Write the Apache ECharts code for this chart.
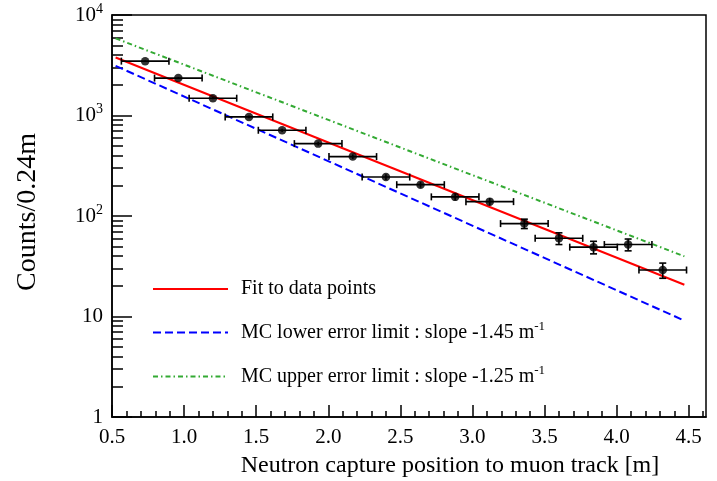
<!DOCTYPE html>
<html>
<head>
<meta charset="utf-8">
<script src="https://cdn.jsdelivr.net/npm/echarts@6/dist/echarts.min.js"></script>
<style>
  html, body { margin: 0; padding: 0; background: #fff; }
  #chart { width: 717px; height: 481px; }
</style>
</head>
<body>
<div id="chart"></div>
<script>
// Neutron capture distance distribution (bin width 0.24 m)
const positions = [0.73, 0.96, 1.20, 1.45, 1.68, 1.93, 2.17, 2.40, 2.64, 2.88, 3.12, 3.36, 3.60, 3.84, 4.08, 4.32];
const counts = [3475, 2356, 1486, 968, 713, 525, 390, 244, 205, 155, 139, 84, 60, 49, 52, 29];
const countErrors = [59, 49, 39, 31, 27, 23, 20, 16, 14, 12, 12, 9, 8, 7, 7, 5];
const binHalfWidth = 0.165;

// Exponential curves (straight on the log axis), given by their end points
const fitLine = [[0.525, 3780], [4.47, 20.7]];
const lowerLimitLine = [[0.525, 3120], [4.47, 9.1]];
const upperLimitLine = [[0.525, 5850], [4.47, 39.7]];

const seriesNames = [
  'Fit to data points',
  'MC lower error limit : slope -1.45 m',
  'MC upper error limit : slope -1.25 m'
];

// Axis ticks
const xMajorTicks = [0.5, 1.0, 1.5, 2.0, 2.5, 3.0, 3.5, 4.0, 4.5];
const xMinorTicks = [0.6, 0.7, 0.8, 0.9, 1.1, 1.2, 1.3, 1.4, 1.6, 1.7, 1.8, 1.9,
  2.1, 2.2, 2.3, 2.4, 2.6, 2.7, 2.8, 2.9, 3.1, 3.2, 3.3, 3.4, 3.6, 3.7, 3.8, 3.9,
  4.1, 4.2, 4.3, 4.4, 4.6];
const yMajorTicks = [1, 10, 100, 1000, 10000];
const yMinorTicks = [2, 3, 4, 5, 6, 7, 8, 9, 20, 30, 40, 50, 60, 70, 80, 90,
  200, 300, 400, 500, 600, 700, 800, 900, 2000, 3000, 4000, 5000, 6000, 7000, 8000, 9000];

const SERIF = "'Liberation Serif', 'Times New Roman', serif";
const X_MIN = 0.5, X_MAX = 4.62;

const chart = echarts.init(document.getElementById('chart'), null, { renderer: 'canvas' });

function yLabel(v) {
  const e = Math.round(Math.log10(v));
  if (e === 0) return '{b|1}';
  if (e === 1) return '{b|10}';
  return '{b|10}{s|' + e + '}';
}

const baseAxis = {
  min: X_MIN, max: X_MAX,
  splitLine: { show: false }
};

const option = {
  backgroundColor: '#fff',
  animation: false,
  grid: {
    left: 112, top: 15, right: 11, bottom: 64,
    show: true, borderColor: '#000', borderWidth: 1.5,
    containLabel: false, outerBoundsMode: 'none'
  },
  legend: {
    orient: 'vertical',
    left: 152, top: 277, padding: 0,
    itemWidth: 75, itemHeight: 14, itemGap: 19,
    selectedMode: false,
    data: seriesNames,
    itemStyle: { color: 'rgba(0,0,0,0)', borderWidth: 0, opacity: 0 },
    formatter: function (name) {
      if (name === seriesNames[0]) return '{t|' + name + '}';
      return '{t|' + name + '}{s|-1}';
    },
    textStyle: {
      fontFamily: SERIF, fontSize: 20, color: '#000', lineHeight: 24,
      padding: [0, 0, 0, 8],
      rich: {
        t: { fontFamily: SERIF, fontSize: 20, color: '#000', lineHeight: 24 },
        s: { fontFamily: SERIF, fontSize: 13, color: '#000', lineHeight: 24, padding: [0, 0, 12, 0] }
      }
    }
  },
  xAxis: [
    Object.assign({}, baseAxis, {
      type: 'value', position: 'bottom',
      name: 'Neutron capture position to muon track [m]',
      nameLocation: 'middle', nameGap: 37,
      nameTextStyle: { fontFamily: SERIF, fontSize: 24, color: '#000', padding: [0, 0, 0, 82] },
      axisLine: { show: true, onZero: false, lineStyle: { color: '#000', width: 1.5 } },
      axisTick: { show: true, inside: true, length: 12, customValues: xMajorTicks, lineStyle: { color: '#000', width: 1.5 } },
      axisLabel: {
        show: true, margin: 10, customValues: xMajorTicks,
        fontFamily: SERIF, fontSize: 21, color: '#000',
        formatter: v => v.toFixed(1)
      }
    }),
    Object.assign({}, baseAxis, {
      type: 'value', position: 'bottom',
      axisLine: { show: false, onZero: false },
      axisTick: { show: true, inside: true, length: 6, customValues: xMinorTicks, lineStyle: { color: '#000', width: 1.5 } },
      axisLabel: { show: false }
    })
  ],
  yAxis: [
    {
      type: 'log', logBase: 10, min: 1, max: 10000, position: 'left',
      name: 'Counts/0.24m',
      nameLocation: 'middle', nameGap: 70,
      nameTextStyle: { fontFamily: SERIF, fontSize: 28, color: '#000', padding: [0, 0, 0, 8] },
      splitLine: { show: false },
      axisLine: { show: true, onZero: false, lineStyle: { color: '#000', width: 1.5 } },
      axisTick: { show: true, inside: true, length: 20, customValues: yMajorTicks, lineStyle: { color: '#000', width: 1.5 } },
      axisLabel: {
        show: true, margin: 9, customValues: yMajorTicks,
        formatter: yLabel,
        rich: {
          b: { fontFamily: SERIF, fontSize: 21, color: '#000', lineHeight: 22 },
          s: { fontFamily: SERIF, fontSize: 14, color: '#000', lineHeight: 22, padding: [0, 0, 12, 0] }
        }
      }
    },
    {
      type: 'log', logBase: 10, min: 1, max: 10000, position: 'left',
      splitLine: { show: false },
      axisLine: { show: false, onZero: false },
      axisTick: { show: true, inside: true, length: 11, customValues: yMinorTicks, lineStyle: { color: '#000', width: 1.5 } },
      axisLabel: { show: false }
    }
  ],
  series: [
    {
      name: seriesNames[0], type: 'line', data: fitLine,
      xAxisIndex: 0, yAxisIndex: 0, symbol: 'none', z: 2,
      lineStyle: { color: '#ff0000', width: 2 }, itemStyle: { color: '#ff0000' }
    },
    {
      name: seriesNames[1], type: 'line', data: lowerLimitLine,
      xAxisIndex: 0, yAxisIndex: 0, symbol: 'none', z: 2,
      lineStyle: { color: '#0000ff', width: 2, type: [8, 4] }, itemStyle: { color: '#0000ff' }
    },
    {
      name: seriesNames[2], type: 'line', data: upperLimitLine,
      xAxisIndex: 0, yAxisIndex: 0, symbol: 'none', z: 2,
      lineStyle: { color: '#33aa33', width: 2, type: [5, 3, 1.5, 3] }, itemStyle: { color: '#33aa33' }
    },
    {
      type: 'custom', xAxisIndex: 0, yAxisIndex: 0, z: 3,
      data: positions.map((x, i) => [x, counts[i], x - binHalfWidth, x + binHalfWidth,
        counts[i] - countErrors[i], counts[i] + countErrors[i]]),
      encode: { x: [0, 2, 3], y: [1, 4, 5] },
      renderItem: function (params, api) {
        const c = api.coord([api.value(0), api.value(1)]);
        const l = api.coord([api.value(2), api.value(1)]);
        const r = api.coord([api.value(3), api.value(1)]);
        const lo = api.coord([api.value(0), api.value(4)]);
        const hi = api.coord([api.value(0), api.value(5)]);
        const cap = 3.5;
        const style = { stroke: '#000', lineWidth: 1.6, fill: null };
        const children = [
          { type: 'line', shape: { x1: l[0], y1: c[1], x2: r[0], y2: c[1] }, style: style },
          { type: 'line', shape: { x1: l[0], y1: c[1] - cap, x2: l[0], y2: c[1] + cap }, style: style },
          { type: 'line', shape: { x1: r[0], y1: c[1] - cap, x2: r[0], y2: c[1] + cap }, style: style },
          { type: 'line', shape: { x1: c[0], y1: lo[1], x2: c[0], y2: hi[1] }, style: style }
        ];
        if (lo[1] - c[1] > 4.5) {
          children.push({ type: 'line', shape: { x1: c[0] - cap, y1: lo[1], x2: c[0] + cap, y2: lo[1] }, style: style });
          children.push({ type: 'line', shape: { x1: c[0] - cap, y1: hi[1], x2: c[0] + cap, y2: hi[1] }, style: style });
        }
        return { type: 'group', children: children };
      }
    },
    {
      type: 'scatter', xAxisIndex: 0, yAxisIndex: 0, z: 4,
      data: positions.map((x, i) => [x, counts[i]]),
      symbol: 'circle', symbolSize: 8.5,
      itemStyle: { color: '#000' }
    }
  ]
};

chart.setOption(option);
</script>
</body>
</html>
